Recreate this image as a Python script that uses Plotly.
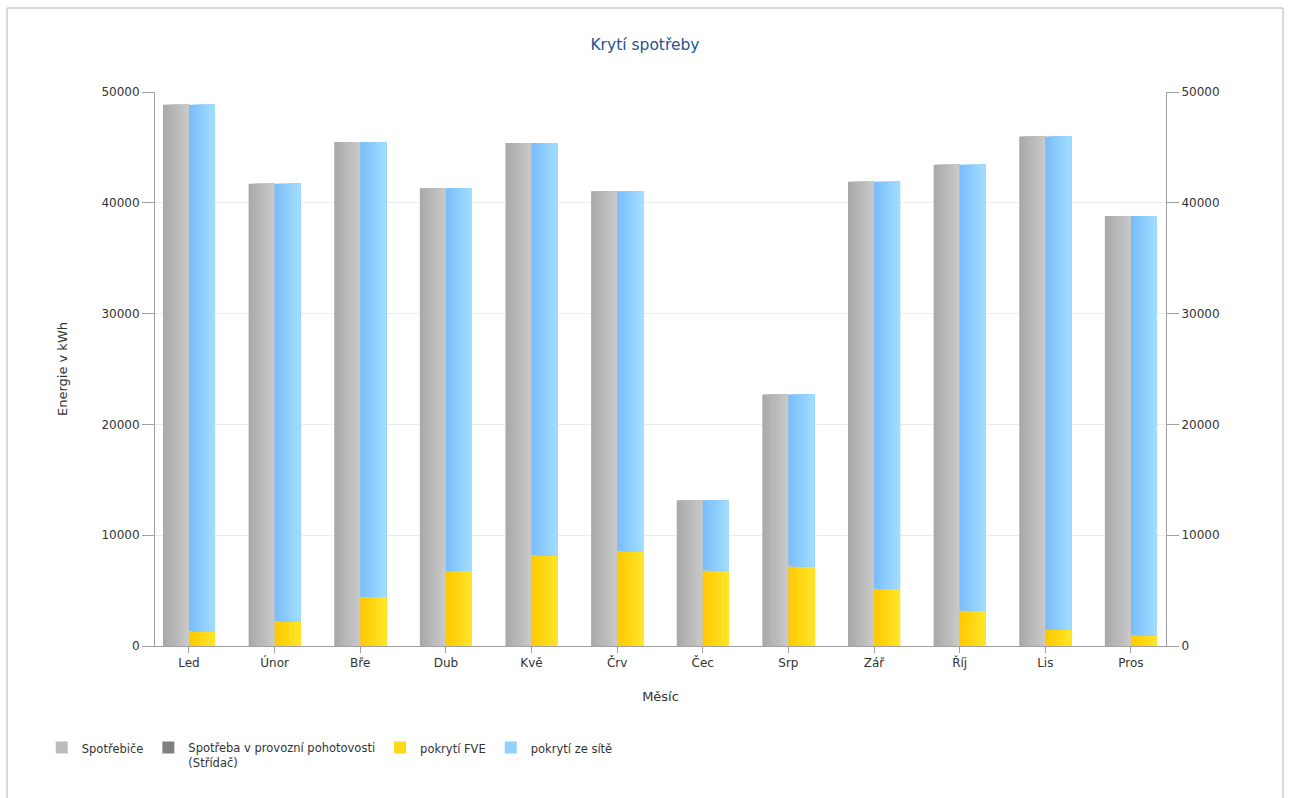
import plotly.graph_objects as go

months = ["Led", "Únor", "Bře", "Dub", "Kvě", "Črv", "Čec", "Srp", "Zář", "Říj", "Lis", "Pros"]
spotrebice = [48850, 41730, 45480, 41320, 45400, 41050, 13150, 22700, 41900, 43430, 45980, 38800]
pohotovost = [0, 0, 0, 0, 0, 0, 0, 0, 0, 0, 0, 0]
pokryti_fve = [1300, 2240, 4420, 6780, 8200, 8560, 6820, 7170, 5170, 3190, 1450, 980]
pokryti_sit = [s - f for s, f in zip(spotrebice, pokryti_fve)]

FONT = "DejaVu Sans"
W = 0.304
N = 8


def hex2rgb(h):
    h = h.lstrip("#")
    return tuple(int(h[i:i + 2], 16) for i in (0, 2, 4))


def lerp(c1, c2, t):
    a, b = hex2rgb(c1), hex2rgb(c2)
    return "rgb(%d,%d,%d)" % tuple(round(a[i] + (b[i] - a[i]) * t) for i in range(3))


fig = go.Figure()


def add_series(name, y, base, offset, c1, c2, rank):
    # slices drawn wide-to-narrow, each overlapping the rest, giving a horizontal gradient
    for i in range(N):
        t = (i + 0.5) / N
        start = offset + i * W / N
        fig.add_trace(go.Bar(
            x=months, y=y, base=base, name=name,
            offset=start, width=offset + W - start,
            marker=dict(color=lerp(c1, c2, t), line=dict(width=0)),
            legendgroup=name, showlegend=(i == N // 2), legendrank=rank,
            hoverinfo="skip",
        ))


add_series("Spotřebiče", spotrebice, [0] * 12, -W, "#a8a8a8", "#cacaca", 1)
add_series("Spotřeba v provozní pohotovosti<br>(Střídač)", pohotovost, spotrebice, -W, "#6e6e6e", "#8e8e8e", 2)
add_series("pokrytí FVE", pokryti_fve, [0] * 12, 0, "#ffc800", "#ffe62a", 3)
add_series("pokrytí ze sítě", pokryti_sit, pokryti_fve, 0, "#79bcfa", "#a3deff", 4)

# trace tied to the right axis so it is drawn
fig.add_trace(go.Scatter(x=months, y=[None] * 12, yaxis="y2", showlegend=False, hoverinfo="skip"))

axis_font = dict(family=FONT, size=12, color="#333333")
ticks = [0, 10000, 20000, 30000, 40000, 50000]

fig.update_layout(
    width=1290, height=798,
    barmode="overlay",
    paper_bgcolor="white", plot_bgcolor="white",
    margin=dict(l=155, r=124, t=92, b=152),
    font=dict(family=FONT, size=12, color="#333333"),
    title=dict(text="Krytí spotřeby", x=0.5, xref="container", xanchor="center",
               y=1 - 45 / 798, yref="container", yanchor="middle",
               font=dict(family=FONT, size=15.5, color="#24558f")),
    xaxis=dict(
        showgrid=False, showline=True, linecolor="#a0a0a0", linewidth=1,
        ticks="outside", ticklen=6, tickcolor="#a0a0a0", tickfont=axis_font,
        title=dict(text="Měsíc", font=dict(family=FONT, size=13, color="#333333"), standoff=22),
        range=[-0.397, 11.41],
    ),
    yaxis=dict(
        range=[0, 50000], tickvals=ticks, tickformat="d",
        showgrid=True, gridcolor="#ececec", gridwidth=1,
        showline=True, linecolor="#a0a0a0", linewidth=1,
        ticks="outside", ticklen=12, tickcolor="#a0a0a0", tickfont=axis_font,
        zeroline=False,
        title=dict(text="Energie v kWh", font=dict(family=FONT, size=13, color="#333333"), standoff=30),
    ),
    yaxis2=dict(
        overlaying="y", side="right", range=[0, 50000],
        tickvals=ticks, tickformat="d",
        showgrid=False, showline=True, linecolor="#a0a0a0", linewidth=1,
        ticks="outside", ticklen=12, tickcolor="#a0a0a0", tickfont=axis_font,
        zeroline=False,
    ),
    legend=dict(
        orientation="h", x=-0.112, xanchor="left", y=-0.158, yanchor="top",
        font=dict(family=FONT, size=11.5, color="#333333"),
        traceorder="normal", valign="top", itemsizing="constant",
    ),
    shapes=[dict(
        type="rect", xref="paper", yref="paper",
        x0=(7 - 155) / 1011, x1=(1283 - 155) / 1011,
        y0=(646 - 810) / 554, y1=(646 - 8) / 554,
        line=dict(color="#b4b4b4", width=1), fillcolor="rgba(0,0,0,0)", layer="below",
    )],
)

fig.write_html("out.html")
